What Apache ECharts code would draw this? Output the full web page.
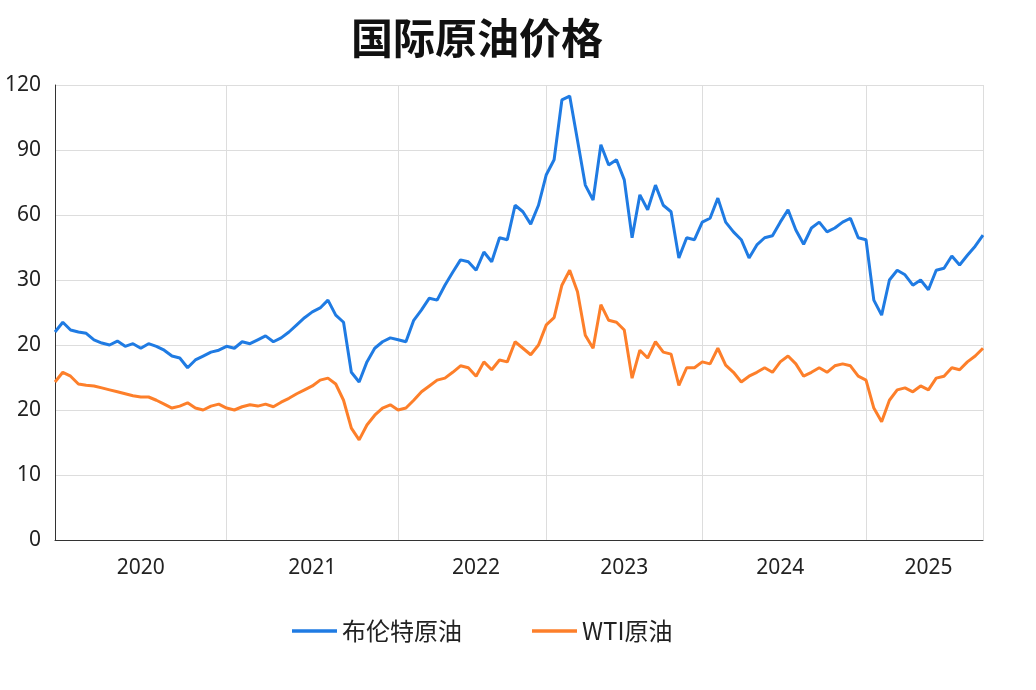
<!DOCTYPE html>
<html>
<head>
<meta charset="utf-8">
<script src="https://cdn.jsdelivr.net/npm/echarts@6/dist/echarts.min.js"></script>
<style>html,body{margin:0;padding:0;background:#fff}#main{width:1036px;height:690px}</style>
</head>
<body>
<div id="main"></div>
<script>
// y axis is drawn on an evenly spaced 0..7 scale; labels as printed in the source
const yTickLabels = ['0', '10', '20', '20', '30', '60', '90', '120'];
const years = ['2020', '2021', '2022', '2023', '2024', '2025'];
const yearCounts = [22, 22, 19, 20, 21, 16];
const yearLabelIndex = [11, 33, 54, 73, 93, 112];

// values on the 0..7 axis scale, weekly-ish samples
const brent = [3.20,3.35,3.23,3.20,3.18,3.08,3.03,3.00,3.06,2.98,3.02,2.95,3.02,2.98,2.92,2.83,2.80,2.65,2.77,2.83,
  2.89,2.92,2.98,2.95,3.05,3.02,3.08,3.14,3.05,3.11,3.20,3.31,3.42,3.51,3.57,3.69,3.46,3.35,2.58,2.43,
  2.74,2.95,3.05,3.11,3.08,3.05,3.38,3.54,3.72,3.69,3.92,4.12,4.31,4.28,4.15,4.43,4.28,4.65,4.62,5.15,
  5.05,4.86,5.15,5.62,5.85,6.77,6.83,6.15,5.46,5.23,6.08,5.77,5.85,5.54,4.65,5.31,5.08,5.46,5.15,5.05,
  4.34,4.65,4.62,4.89,4.95,5.26,4.89,4.74,4.62,4.34,4.54,4.65,4.68,4.89,5.08,4.77,4.55,4.80,4.89,4.74,
  4.80,4.89,4.95,4.65,4.62,3.69,3.46,4.00,4.15,4.08,3.92,4.00,3.85,4.15,4.18,4.37,4.23,4.38,4.52,4.69];
const wti = [2.43,2.58,2.52,2.40,2.38,2.37,2.34,2.31,2.28,2.25,2.22,2.20,2.20,2.15,2.09,2.03,2.06,2.11,2.03,2.00,
  2.06,2.09,2.03,2.00,2.05,2.08,2.06,2.09,2.05,2.12,2.18,2.25,2.31,2.37,2.46,2.49,2.40,2.15,1.72,1.54,
  1.77,1.92,2.03,2.08,2.00,2.03,2.15,2.28,2.37,2.46,2.49,2.58,2.68,2.65,2.52,2.74,2.62,2.77,2.74,3.05,
  2.95,2.85,3.00,3.31,3.42,3.92,4.15,3.82,3.15,2.95,3.62,3.38,3.35,3.23,2.49,2.92,2.80,3.05,2.89,2.86,
  2.38,2.65,2.65,2.74,2.71,2.95,2.69,2.58,2.43,2.52,2.58,2.65,2.58,2.74,2.83,2.71,2.52,2.58,2.65,2.58,
  2.68,2.71,2.68,2.52,2.46,2.03,1.82,2.15,2.31,2.34,2.28,2.37,2.31,2.49,2.52,2.65,2.62,2.74,2.83,2.95];

let categories = [];
let boundaries = [];
years.forEach(function (y, k) {
  boundaries.push(categories.length);
  for (let i = 0; i < yearCounts[k]; i++) categories.push(y + '-' + (i + 1));
});
boundaries.push(categories.length - 1);

const chart = echarts.init(document.getElementById('main'));
chart.setOption({
  title: {
    text: '国际原油价格', left: 472, top: 12, textAlign: 'center',
    textStyle: { fontSize: 42, fontWeight: 'bold', color: '#111', fontFamily: 'Noto Sans CJK SC' }
  },
  legend: {
    bottom: 42, left: 287, itemGap: 70, itemWidth: 45, icon: 'path://M0,0H40V3H0Z',
    textStyle: { fontSize: 24, color: '#222', fontFamily: 'Noto Sans CJK SC' },
    data: ['布伦特原油', 'WTI原油']
  },
  grid: { left: 55, right: 53, top: 85, bottom: 150 },
  xAxis: {
    type: 'category', data: categories, boundaryGap: false,
    axisLine: { lineStyle: { color: '#333' } },
    axisTick: { show: false },
    axisLabel: {
      interval: function (i) { return yearLabelIndex.indexOf(i) >= 0; },
      formatter: function (v) { return v.split('-')[0]; },
      fontSize: 21, color: '#222', margin: 18, fontFamily: 'Noto Sans'
    },
    splitLine: {
      show: true,
      interval: function (i) { return boundaries.indexOf(i) > 0; },
      lineStyle: { color: '#ddd' }
    }
  },
  yAxis: {
    type: 'value', min: 0, max: 7, interval: 1,
    axisLine: { show: true, lineStyle: { color: '#333' } },
    axisLabel: {
      formatter: function (v) { return yTickLabels[v]; },
      fontSize: 21, color: '#222', margin: 14, fontFamily: 'Noto Sans'
    },
    splitLine: { lineStyle: { color: '#ddd' } }
  },
  series: [
    { name: '布伦特原油', type: 'line', data: brent, showSymbol: false, smooth: false,
      lineStyle: { width: 3, color: '#1f7be3' }, itemStyle: { color: '#1f7be3' } },
    { name: 'WTI原油', type: 'line', data: wti, showSymbol: false, smooth: false,
      lineStyle: { width: 3, color: '#fd7f2a' }, itemStyle: { color: '#fd7f2a' } }
  ]
});
</script>
</body>
</html>
